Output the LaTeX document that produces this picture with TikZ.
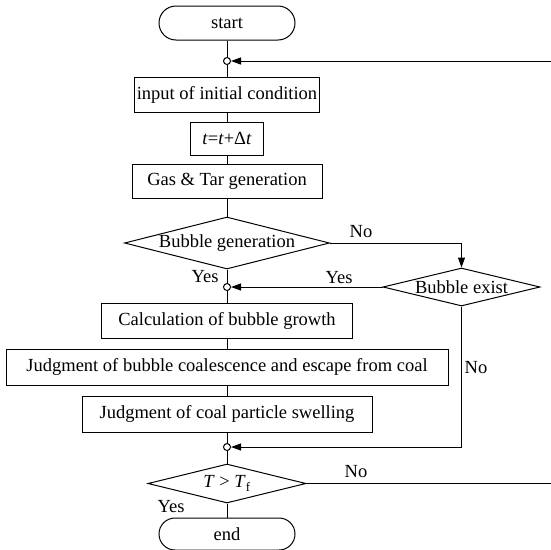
\documentclass[tikz,border=0pt]{standalone}
\usepackage{fontspec}
\setmainfont{Liberation Serif}
\usetikzlibrary{shapes.geometric,arrows.meta}

\begin{document}
\begin{tikzpicture}[x=1pt,y=-1pt,line width=1pt,
  every node/.style={font=\fontsize{18.5}{22}\selectfont},
  box/.style={draw, rectangle, minimum height=35, inner sep=0pt},
  term/.style={draw, rectangle, rounded corners=17, minimum width=136, minimum height=34},
  dmd/.style={draw, diamond, inner sep=0pt},
  junc/.style={draw, circle, fill=white, inner sep=0pt, minimum size=7},
  arr/.style={-{Triangle[length=10pt,width=7pt]}}]
\useasboundingbox (0,0) rectangle (551,549);

\coordinate (S) at (227,23);
\coordinate (I) at (227,94.5);
\coordinate (D) at (227,138.5);
\coordinate (G) at (227,181);
\coordinate (BG) at (227,243);
\coordinate (BE) at (461.5,287);
\coordinate (C) at (227,320.5);
\coordinate (J) at (227,367);
\coordinate (W) at (227,414);
\coordinate (T) at (227,483.5);
\coordinate (E) at (227,534);
\coordinate (loopR) at (557,483.5);

% main column
\node[term] (start) at (S) {start};
\node[junc] (j1) at (227,61) {};
\node[box, minimum width=185] (input) at (I) {input of initial condition};
\node[box, minimum width=73, minimum height=33] (tstep) at (D) {\textit{t}=\textit{t}+Δ\textit{t}};
\node[box, minimum width=190, minimum height=34] (gas) at (G) {Gas \& Tar generation};
\node[dmd, minimum width=205, minimum height=52] (bubgen) at (BG) {\makebox[0pt]{Bubble generation}};
\node[dmd, minimum width=157, minimum height=38] (bubex) at (BE) {\makebox[0pt]{Bubble exist}};
\node[junc] (j2) at (227,287) {};
\node[box, minimum width=251] (calc) at (C) {Calculation of bubble growth};
\node[box, minimum width=442, minimum height=36] (coal) at (J) {Judgment of bubble coalescence and escape from coal};
\node[box, minimum width=290, minimum height=36] (swell) at (W) {Judgment of coal particle swelling};
\node[junc] (j3) at (227,447) {};
\node[dmd, minimum width=158, minimum height=39] (tcheck) at (T) {\makebox[0pt]{\textit{T} > \textit{T}\textsubscript{f}}};
\node[term, minimum height=32, rounded corners=16] (stop) at (E) {end};

\draw (start) -- (j1) -- (input) -- (tstep) -- (gas) -- (bubgen) -- (j2) -- (calc) -- (coal) -- (swell) -- (j3) -- (tcheck) -- (stop);
\draw[arr] (bubgen.east) -| (bubex.north);
\draw[arr] (bubex.west) -- (j2);
\draw[arr] (bubex.south) |- (j3);
\draw[arr] (tcheck.east) -- (loopR) |- (j1);

\node (no1) at (361,232) {No};
\node (yes1) at (205,277) {Yes};
\node (yes2) at (339,278) {Yes};
\node (no2) at (476,368) {No};
\node (no3) at (356,472) {No};
\node (yes3) at (171,507) {Yes};
\end{tikzpicture}
\end{document}
